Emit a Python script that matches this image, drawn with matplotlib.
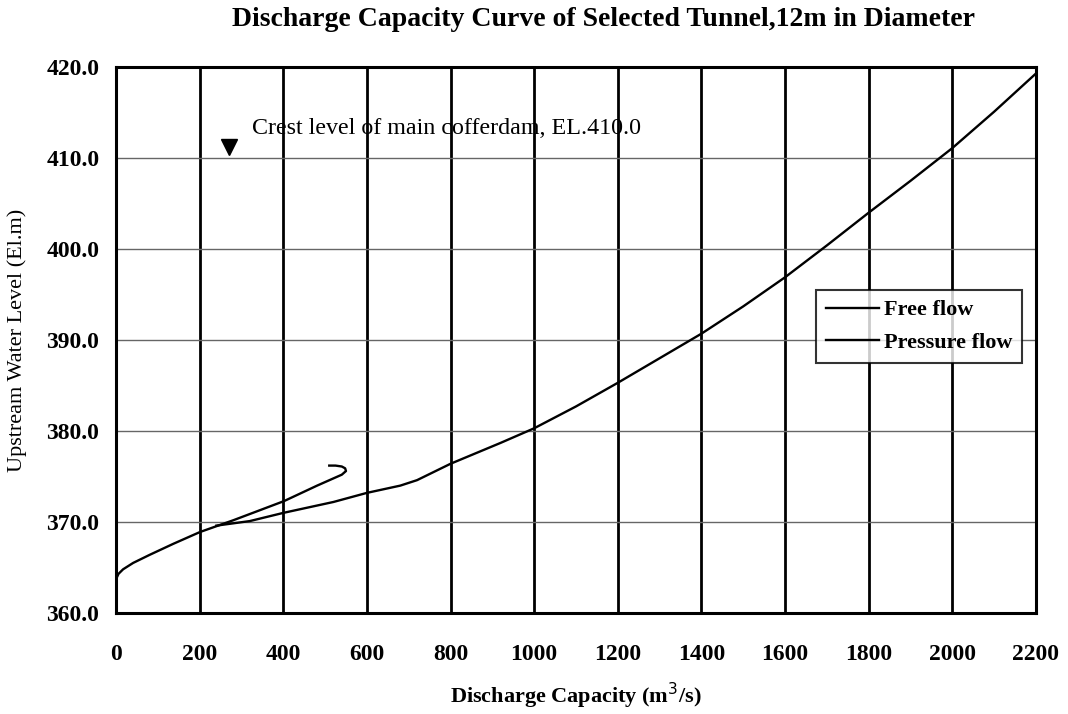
import matplotlib
matplotlib.use("Agg")
import matplotlib.pyplot as plt

# free-flow branch, including the small hook at its upper end
free_q = [0, 2, 6, 17, 41, 81, 137, 201, 281, 402, 481, 540, 550, 548, 540, 525, 510]
free_h = [363.3, 363.9, 364.3, 364.8, 365.5, 366.4, 367.6, 368.9, 370.2, 372.3, 374.0,
          375.2, 375.6, 375.9, 376.1, 376.2, 376.2]

# pressure-flow branch
pres_q = [240, 320, 400, 520, 600, 680, 720, 760, 800, 920, 1000, 1100, 1200, 1300, 1400,
          1500, 1600, 1700, 1800, 1900, 2000, 2100, 2200]
pres_h = [369.6, 370.1, 371.0, 372.2, 373.2, 374.0, 374.6, 375.5, 376.4, 378.7, 380.3,
          382.7, 385.3, 388.0, 390.7, 393.7, 396.9, 400.4, 404.0, 407.5, 411.1, 415.1, 419.3]

x_ticks = [0, 200, 400, 600, 800, 1000, 1200, 1400, 1600, 1800, 2000, 2200]
y_ticks = [360, 370, 380, 390, 400, 410, 420]

crest_q = 270
crest_el = 410.0

plt.rcParams["font.family"] = "Liberation Serif"

fig = plt.figure(figsize=(10.68, 7.14), dpi=100)
ax = fig.add_axes([0.1086, 0.1415, 0.8614, 0.7645])

ax.plot(free_q, free_h, color="black", lw=1.7, label="Free flow")
ax.plot(pres_q, pres_h, color="black", lw=1.7, label="Pressure flow")

ax.set_xlim(0, 2200)
ax.set_ylim(360, 420)
ax.set_xticks(x_ticks)
ax.set_yticks(y_ticks)
ax.set_yticklabels([f"{v:.1f}" for v in y_ticks])
ax.tick_params(axis="both", length=0, labelsize=17)
ax.tick_params(axis="x", pad=22)
ax.tick_params(axis="y", pad=12)
for lab in ax.get_xticklabels() + ax.get_yticklabels():
    lab.set_fontweight("bold")

# heavy vertical grid, thin grey horizontal grid
for q in x_ticks[1:-1]:
    ax.axvline(q, color="black", lw=2.0, zorder=1)
for h in y_ticks[1:-1]:
    ax.axhline(h, color="#666666", lw=1.0, zorder=1)

for sp in ax.spines.values():
    sp.set_linewidth(2.2)
    sp.set_color("black")

ax.plot([crest_q], [crest_el + 1.2], marker="v", color="black", markersize=11, zorder=5)
ax.text(crest_q + 55, crest_el + 3.2, f"Crest level of main cofferdam, EL.{crest_el:.1f}",
        fontsize=17.3, ha="left", va="center")

leg = ax.legend(loc="center left", bbox_to_anchor=(0.749, 0.525), frameon=True,
                fancybox=False, edgecolor="black", fontsize=16, handlelength=2.4,
                handletextpad=0.2, borderpad=0.45, labelspacing=0.55)
leg.get_frame().set_linewidth(1.5)
for t in leg.get_texts():
    t.set_fontweight("bold")

ax.set_xlabel("Discharge Capacity (m$^3$/s)", fontsize=16, fontweight="bold", labelpad=12)
ax.set_ylabel("Upstream Water Level (El.m)", fontsize=16, labelpad=14)

fig.text(0.565, 0.972, "Discharge Capacity Curve of Selected Tunnel,12m in Diameter",
         fontsize=20, fontweight="bold", ha="center", va="center")

fig.savefig("out.png", dpi=100)
